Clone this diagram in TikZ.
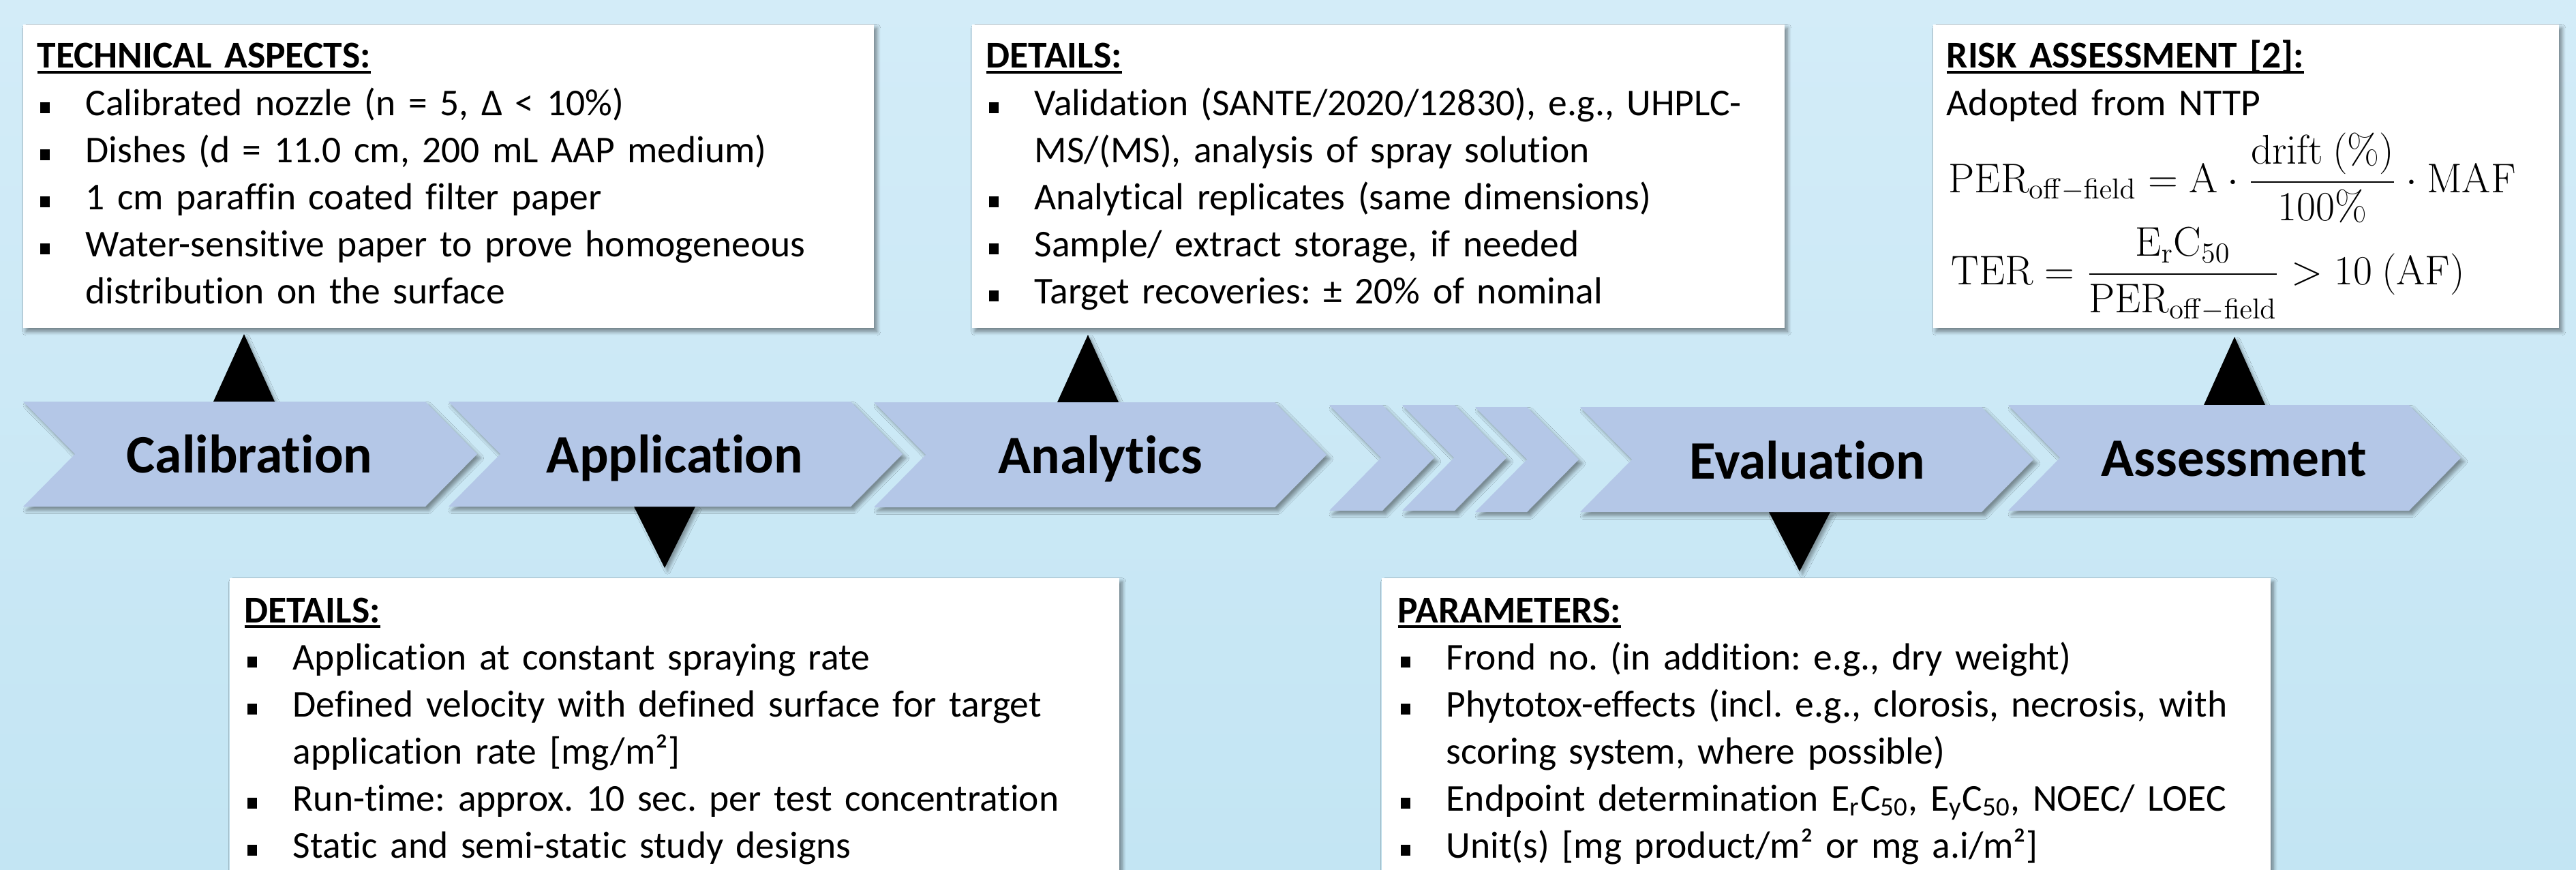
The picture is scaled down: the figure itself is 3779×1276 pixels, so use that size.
\documentclass[tikz,border=0pt]{standalone}
\usepackage[no-math]{fontspec}
\setmainfont{Carlito}[Ligatures={TeX,NoCommon}]
\usetikzlibrary{shadows.blur}

% one drawing unit = one pixel of the 3779 x 1276 canvas
\newlength\px \setlength\px{0.01cm}

\definecolor{bgtop}{RGB}{211,236,248}
\definecolor{bgbot}{RGB}{195,229,243}
\definecolor{chevfill}{RGB}{180,199,231}

\newcommand\bodyfont{\fontsize{15.8pt}{19.63pt}\selectfont\parindent=0pt\parskip=0pt\frenchspacing}
\newcommand\mathfontsize{\fontsize{17.6pt}{21pt}\selectfont}
\newcommand\labelfont{\fontsize{22.6pt}{26pt}\selectfont\bfseries}
\newcommand\sqbul{\rule[0.06em]{0.25em}{0.28em}}
\newcommand\ulbox[1]{\setbox0=\hbox{#1}\rlap{\rule[-2.4pt]{\wd0}{1.2pt}}\box0}
\newcommand\head[1]{\textbf{\ulbox{#1}}\par}
\newcommand\bitem[1]{\par\hangindent=71\px\hangafter=1\makebox[71\px][l]{\hspace{4\px}\sqbul}#1}
\newcommand\offf{\mathrm{off}-\mathrm{field}}

\tikzset{
  panel/.style={fill=white, inner sep=0pt, anchor=north west,
    blur shadow={shadow xshift=1.3pt, shadow yshift=-1.6pt, shadow opacity=45,
      shadow blur radius=1.6pt, shadow blur steps=8}},
  paneltext/.style={anchor=base west, inner sep=0pt, text width=1400\px, font=\bodyfont},
  formula/.style={anchor=base west, inner sep=0pt, font=\mathfontsize},
  chev/.style={fill=chevfill,
    blur shadow={shadow xshift=1.4pt, shadow yshift=-1.6pt, shadow opacity=40,
      shadow blur radius=1.4pt, shadow blur steps=8}},
  chevlabel/.style={anchor=base, inner sep=0pt, font=\labelfont},
  pointer/.style={fill=black,
    blur shadow={shadow xshift=1.2pt, shadow yshift=-1.4pt, shadow opacity=35,
      shadow blur radius=1.2pt, shadow blur steps=6}},
}

% chevron: left edge, right shoulder, top, bottom
\newcommand\chevron[4]{%
  \fill[chev] (#1,#3) -- (#2,#3) -- (#2+76,{(#3+#4)/2}) -- (#2,#4) -- (#1,#4)
    -- (#1+76,{(#3+#4)/2}) -- cycle;}

\begin{document}
\begin{tikzpicture}[x=0.01cm, y=-0.01cm]
\useasboundingbox (0,0) rectangle (3779,1276);
\clip (0,0) rectangle (3779,1276);
\shade[top color=bgtop, bottom color=bgbot] (0,0) rectangle (3779,1276);

% ---------- text panels ----------
\node[panel, minimum width=1248\px, minimum height=445\px] (b1) at (33,35) {};
\node[panel, minimum width=1192\px, minimum height=445\px] (b2) at (1425,35) {};
\node[panel, minimum width=918\px, minimum height=445\px] (b3) at (2835,35) {};
\node[panel, minimum width=1305\px, minimum height=480\px] (b4) at (336,847) {};
\node[panel, minimum width=1304\px, minimum height=480\px] (b5) at (2026,847) {};

\node[paneltext] (b1t) at (54,100) {%
  \head{TECHNICAL ASPECTS:}
  \bitem{Calibrated nozzle (n = 5, Δ < 10\%)}
  \bitem{Dishes (d = 11.0 cm, 200 mL AAP medium)}
  \bitem{1 cm paraffin coated filter paper}
  \bitem{Water-sensitive paper to prove homogeneous\newline distribution on the surface}\par};

\node[paneltext] (b2t) at (1446,100) {%
  \head{DETAILS:}
  \bitem{Validation (SANTE/2020/12830), e.g., UHPLC-\newline MS/(MS), analysis of spray solution}
  \bitem{Analytical replicates (same dimensions)}
  \bitem{Sample/ extract storage, if needed}
  \bitem{Target recoveries: ± 20\% of nominal}\par};

\node[paneltext] (b3t) at (2855,100) {%
  \head{RISK ASSESSMENT [2]:}
  Adopted from NTTP\par};
\node[formula] (f1) at (2858,282)
  {$\displaystyle \mathrm{PER}_{\offf} = \mathrm{A}\cdot\frac{\mathrm{drift}\ (\%)}{100\%}\cdot\mathrm{MAF}$};
\node[formula] (f2) at (2862,417)
  {$\displaystyle \mathrm{TER} = \frac{\mathrm{E}_{\mathrm{r}}\mathrm{C}_{50}}{\mathrm{PER}_{\offf}} > 10\ (\mathrm{AF})$};

\node[paneltext] (b4t) at (358,913) {%
  \head{DETAILS:}
  \bitem{Application at constant spraying rate}
  \bitem{Defined velocity with defined surface for target\newline application rate [mg/m²]}
  \bitem{Run-time: approx. 10 sec. per test concentration}
  \bitem{Static and semi-static study designs}\par};

\node[paneltext] (b5t) at (2050,913) {%
  \head{PARAMETERS:}
  \bitem{Frond no. (in addition: e.g., dry weight)}
  \bitem{Phytotox-effects (incl. e.g., clorosis, necrosis, with\newline scoring system, where possible)}
  \bitem{Endpoint determination E\textsubscript{r}C\textsubscript{50}, E\textsubscript{y}C\textsubscript{50}, NOEC/ LOEC}
  \bitem{Unit(s) [mg product/m² or mg a.i/m²]}\par};

% ---------- pointers between process steps and panels ----------
\coordinate (p1) at (358,490);
\coordinate (p2) at (975,833);
\coordinate (p3) at (1596,491);
\coordinate (p4) at (2640,838);
\coordinate (p5) at (3278,494);
\fill[pointer] (p1) -- ++(-45,99) -- ++(90,0) -- cycle;
\fill[pointer] (p2) -- ++(-45,-90) -- ++(90,0) -- cycle;
\fill[pointer] (p3) -- ++(-45,99) -- ++(90,0) -- cycle;
\fill[pointer] (p4) -- ++(-45,-87) -- ++(90,0) -- cycle;
\fill[pointer] (p5) -- ++(-45,100) -- ++(90,0) -- cycle;

% ---------- process chevrons ----------
\chevron{34}{624}{589}{743}
\chevron{658}{1248}{589}{743}
\chevron{1282}{1870}{590}{744}
\chevron{1950}{2028}{594}{749}
\chevron{2057}{2134}{594}{749}
\chevron{2164}{2240}{597}{751}
\chevron{2318}{2907}{597}{751}
\chevron{2946}{3534}{594}{749}

\node[chevlabel] (calib) at (366,693) {Calibration};
\node[chevlabel] (appl) at (990,693) {Application};
\node[chevlabel] (anal) at (1614,694) {Analytics};
\node[chevlabel] (evalu) at (2651,702) {Evaluation};
\node[chevlabel] (assess) at (3277,698) {Assessment};
\end{tikzpicture}
\end{document}
